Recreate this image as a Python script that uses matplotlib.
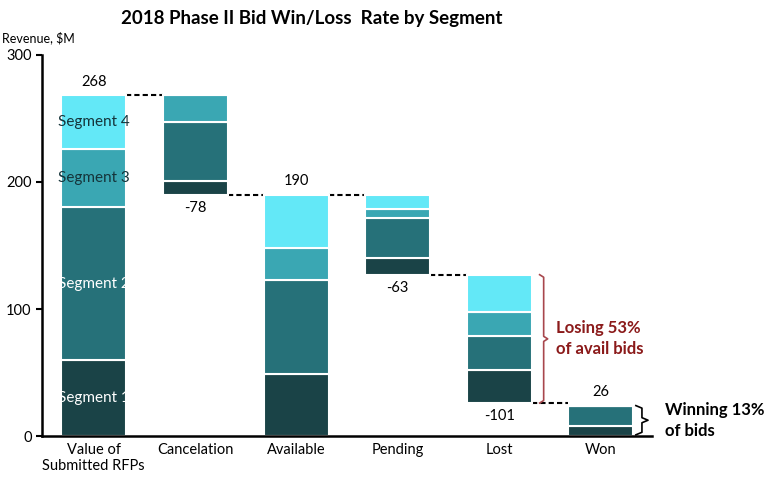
import matplotlib.pyplot as plt
import numpy as np

plt.rcParams['font.family'] = ['Lato', 'DejaVu Sans']

# categories and segment values ($M)
categories = ['Value of\nSubmitted RFPs', 'Cancelation', 'Available', 'Pending', 'Lost', 'Won']
seg1 = [60, 11, 49, 13, 26, 8]
seg2 = [120, 46, 74, 32, 27, 16]
seg3 = [46, 21, 25, 7, 19, 0]
seg4 = [42, 0, 42, 11, 29, 0]
# floating base of each bar (waterfall)
bases = [0, 190, 0, 127, 26, 0]
totals = ['268', '-78', '190', '-63', '-101', '26']
seg_names = ['Segment 1', 'Segment 2', 'Segment 3', 'Segment 4']

colors = ['#1a4347', '#267179', '#3aa7b3', '#63e8f7']

fig = plt.figure(figsize=(7.8, 5.03), dpi=100)
ax = fig.add_axes([0.054, 0.133, 0.782, 0.758])

x = np.arange(len(categories))
w = 0.64
segs = [seg1, seg2, seg3, seg4]
bottom = np.array(bases, dtype=float)
for s, c in zip(segs, colors):
    vals = np.array(s, dtype=float)
    ax.bar(x, vals, w, bottom=bottom, color=c, edgecolor='white', linewidth=1.5, zorder=2)
    bottom = bottom + vals
tops = bottom

# segment names inside first bar
b = 0
for i, s in enumerate(segs):
    tc = 'white' if i < 2 else '#15343a'
    ax.text(x[0], b + s[0] / 2, seg_names[i], ha='center', va='center', fontsize=11, color=tc, zorder=3)
    b += s[0]

# total labels
for i, t in enumerate(totals):
    if t.startswith('-'):
        ax.text(x[i], bases[i] - 5, t, ha='center', va='top', fontsize=10.5)
    else:
        ax.text(x[i], tops[i] + 5, t, ha='center', va='bottom', fontsize=10.5)

# dashed connectors
levels = [tops[0], bases[1], tops[2], bases[3], bases[4]]
for i, lv in enumerate(levels):
    ax.plot([x[i] + w / 2, x[i + 1] - w / 2], [lv, lv], color='black', ls=(0, (2.5, 1.5)), lw=1.5,
            zorder=1, clip_on=False)

# brackets
def bracket(ax, xb, y0, y1, color, dx=0.08):
    ym = (y0 + y1) / 2
    ax.plot([xb, xb + dx / 2, xb + dx / 2, xb + dx, xb + dx / 2, xb + dx / 2, xb],
            [y1, y1 - 2, ym + 2, ym, ym - 2, y0 + 2, y0], color=color, lw=1.2, clip_on=False)

bracket(ax, x[4] + w / 2 + 0.08, bases[4], tops[4], '#a8474d')
ax.text(x[4] + w / 2 + 0.24, (bases[4] + tops[4]) / 2, 'Losing 53%\nof avail bids', ha='left', va='center',
        fontsize=12, fontweight='bold', color='#8b1a1a', linespacing=1.4)
bracket(ax, x[5] + w / 2 + 0.03, bases[5] + 1, tops[5], 'black', dx=0.12)
ax.text(x[5] + w / 2 + 0.32, (bases[5] + tops[5]) / 2, 'Winning 13%\nof bids', ha='left', va='center',
        fontsize=12, fontweight='bold', color='black', linespacing=1.4, clip_on=False)

ax.set_xlim(-0.51, 5.51)
ax.set_ylim(0, 300)
ax.set_yticks([0, 100, 200, 300])
ax.set_xticks(x)
ax.set_xticklabels(categories, fontsize=10.5)
ax.tick_params(axis='y', labelsize=10.5, length=4, width=1.5)
ax.tick_params(axis='x', length=0, pad=5)
for sp in ['top', 'right']:
    ax.spines[sp].set_visible(False)
ax.spines['left'].set_linewidth(1.8)
ax.spines['bottom'].set_linewidth(1.8)

fig.text(0.003, 0.925, 'Revenue, $M', fontsize=9, ha='left', va='center')
fig.text(0.40, 0.963, '2018 Phase II Bid Win/Loss  Rate by Segment', fontsize=13.5, fontweight='bold',
         ha='center', va='center')

fig.savefig('out.png', dpi=100)
